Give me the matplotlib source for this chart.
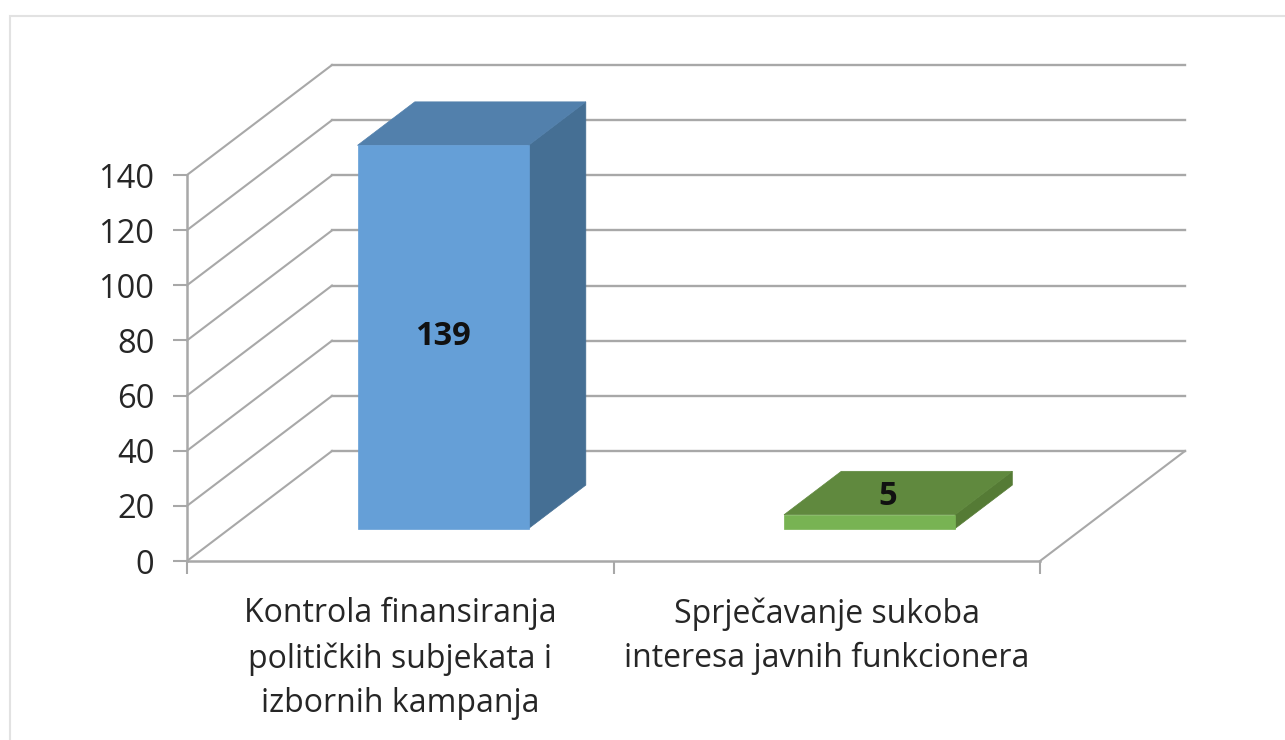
import matplotlib
matplotlib.use('Agg')
import matplotlib.pyplot as plt
from matplotlib.patches import Rectangle

categories = ['Kontrola finansiranja\npolitičkih subjekata i\nizbornih kampanja',
              'Sprječavanje sukoba\ninteresa javnih funkcionera']
values = [139, 5]
yticks = [0, 20, 40, 60, 80, 100, 120, 140]

front_colors = ['#659fd7', '#78b353']
top_colors = ['#5280ac', '#60893e']
side_colors = ['#456f94', '#557b35']

W, H = 1285, 740
LEFT, RIGHT, TOP, BOTTOM = 187, 1040, 175, 561
GRID = '#a8a8a8'
TEXT = '#262626'

plt.rcParams['font.family'] = ['Open Sans', 'DejaVu Sans']

fig = plt.figure(figsize=(W / 100, H / 100), dpi=100)
fig.patches.append(Rectangle((10 / W, -0.01), 1.0, 1.01 - 16 / H, transform=fig.transFigure,
                             facecolor='white', edgecolor='#e2e2e2', linewidth=1.5, zorder=-1))
ax = fig.add_axes([LEFT / W, 1 - BOTTOM / H, (RIGHT - LEFT) / W, (BOTTOM - TOP) / H])
ax.patch.set_visible(False)
ax.set_xlim(0, 2)
ax.set_ylim(0, 140)

# oblique depth of the 3d box, in data units
px_x = 2 / (RIGHT - LEFT)
px_y = 140 / (BOTTOM - TOP)
DX = 145 * px_x
DY = 110 * px_y


def proj(x, y, d):
    return x + d * DX, y + d * DY


def poly(corners, color):
    pts = [proj(*c) for c in corners]
    ax.fill([p[0] for p in pts], [p[1] for p in pts], color=color, linewidth=0.5, clip_on=False, zorder=3)


def line(corners, lw):
    pts = [proj(*c) for c in corners]
    ax.plot([p[0] for p in pts], [p[1] for p in pts], color=GRID, linewidth=lw, clip_on=False, zorder=2,
            solid_joinstyle='miter')


# walls and floor
for v in yticks:
    line([(0, v, 0), (0, v, 1)], 1.5)
    line([(0, v, 1), (2, v, 1)], 1.7)
line([(2, 0, 0), (2, 0, 1)], 1.5)

# bars
bar_w = 0.401
d0, d1 = 0.295, 0.69
for i, v in enumerate(values):
    x0 = i + 0.5 - bar_w / 2
    x1 = i + 0.5 + bar_w / 2
    poly([(x1, 0, d0), (x1, 0, d1), (x1, v, d1), (x1, v, d0)], side_colors[i])
    poly([(x0, v, d0), (x1, v, d0), (x1, v, d1), (x0, v, d1)], top_colors[i])
    poly([(x0, 0, d0), (x1, 0, d0), (x1, v, d0), (x0, v, d0)], front_colors[i])

# value labels
lx, ly = proj(0.5, values[0] / 2, d0)
ax.text(lx, ly, str(values[0]), ha='center', va='center', fontsize=23.5, fontweight='bold', color='#111111', zorder=4)
lx, ly = proj(1.5, values[1], (d0 + d1) / 2)
ax.text(lx - 10 * px_x, ly - 3 * px_y, str(values[1]), ha='center', va='center', fontsize=23.5, fontweight='bold',
        color='#111111', zorder=4)

for s in ['top', 'right']:
    ax.spines[s].set_visible(False)
for s in ['left', 'bottom']:
    ax.spines[s].set_color(GRID)
    ax.spines[s].set_linewidth(1.8)

ax.set_yticks(yticks)
ax.set_xticks([0, 1, 2])
ax.set_xticklabels([])
ax.set_xticks([0.5, 1.5], minor=True)
ax.set_xticklabels(categories, minor=True, fontsize=23, color=TEXT, linespacing=1.46)
ax.tick_params(axis='y', length=10, width=1.5, color=GRID, labelsize=23.5, labelcolor=TEXT, pad=13.5)
ax.tick_params(axis='x', which='major', length=9, width=1.5, color=GRID)
ax.tick_params(axis='x', which='minor', length=0, pad=26)

fig.savefig('out.png', dpi=100, facecolor='white')
